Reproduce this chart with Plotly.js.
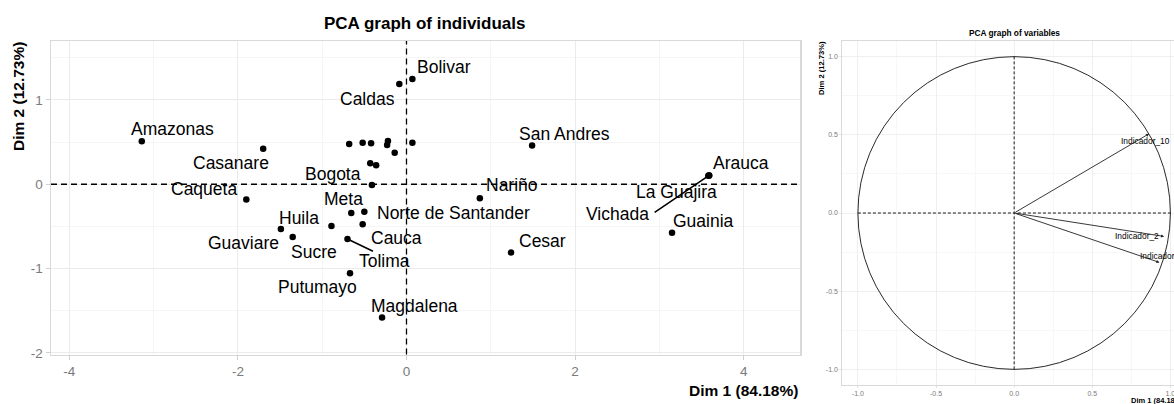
<!DOCTYPE html>
<html>
<head>
<meta charset="utf-8">
<script src="https://cdn.plot.ly/plotly-3.0.1.min.js"></script>
<style>
  html, body { margin: 0; padding: 0; background: #ffffff; overflow: hidden; width: 1174px; height: 404px; }
  #chart { width: 1200px; height: 404px; }
</style>
</head>
<body>
<div id="chart"></div>
<script>
// ---------------- DATA ----------------
// Individuals (departments) – coordinates on Dim 1 / Dim 2
const deptNames = ["Amazonas","Casanare","Caqueta","Caldas","Bolivar","Bogota","Meta",
  "Norte de Santander","Huila","Guaviare","Sucre","Cauca","Tolima","Putumayo","Magdalena",
  "San Andres","Nariño","Arauca","La Guajira","Vichada","Guainia","Cesar",
  "","","","","","","","",""];
const dim1 = [-3.14,-1.70,-1.90,-0.085,0.07,-0.41,-0.655,
  -0.50,-1.49,-1.35,-0.89,-0.52,-0.70,-0.67,-0.29,
  1.49,0.87,3.59,3.58,3.59,3.15,1.24,
  -0.68,-0.52,-0.42,-0.22,-0.23,-0.14,0.07,-0.43,-0.36];
const dim2 = [0.51,0.42,-0.18,1.19,1.25,-0.01,-0.34,
  -0.325,-0.53,-0.625,-0.495,-0.475,-0.65,-1.055,-1.58,
  0.46,-0.165,0.105,0.10,0.105,-0.575,-0.81,
  0.477,0.493,0.486,0.514,0.466,0.375,0.493,0.249,0.225];

// Variables – correlations with Dim 1 / Dim 2
const varNames = ["Indicador_10","Indicador_2","Indicador_1"];
const varDim1 = [0.864, 0.96, 0.93];
const varDim2 = [0.507, -0.15, -0.316];

// Tick labels
const indXTicks = [-4,-2,0,2,4];
const indXTickText = ["-4","-2","0","2","4"];
const indXMinor = [-3,-1,1,3];
const indYTicks = [-2,-1,0,1];
const indYTickText = ["-2","-1","0","1"];
const indYMinor = [-1.5,-0.5,0.5,1.5];
const varTicks = [-1,-0.5,0,0.5,1];
const varTickText = ["-1.0","-0.5","0.0","0.5","1.0"];
const varMinor = [-0.75,-0.25,0.25,0.75];

const axisLabels = {x: "Dim 1 (84.18%)", y: "Dim 2 (12.73%)"};
const titles = ["PCA graph of individuals","PCA graph of variables"];

// ---------------- STYLE (label placement in pixels, not data) ----------------
const labelShift = {
  "Amazonas":[31,12],"Casanare":[-32,-14],"Caqueta":[-42,10],"Caldas":[-32,-15],
  "Bolivar":[32,12],"Bogota":[-39,11],"Meta":[-8,14],"Norte de Santander":[89,-1],
  "Huila":[18,11],"Guaviare":[-49,-6],"Sucre":[-17,-26],"Cauca":[34,-14],
  "Tolima":[37,-22],"Putumayo":[-33,-14],"Magdalena":[32,11],"San Andres":[32,12],
  "Nariño":[32,13],"Arauca":[32,12],"La Guajira":[-32,-16],"Vichada":[-92,-39],
  "Guainia":[31,12],"Cesar":[31,12]
};
const segmentEnd = {"Tolima":[27,13],"Vichada":[-56,38]};
const varLabelStyle = [
  {dx:-4, dy:-7, anchor:"center"},
  {dx:-27, dy:0, anchor:"center"},
  {dx:-21, dy:6, anchor:"left"}
];

const FONT = "Liberation Sans, Arial, Helvetica, sans-serif";
const W = 1200, H = 404;
const px = v => v / W;
const py = v => (H - v) / H;

// ---------------- TRACES ----------------
const traces = [
  {
    type: "scatter", mode: "markers", x: dim1, y: dim2, xaxis: "x", yaxis: "y",
    marker: {color: "#000000", size: 6.5}, hoverinfo: "skip", cliponaxis: false
  },
  { // invisible trace to activate second subplot
    type: "scatter", mode: "markers", x: varDim1, y: varDim2, xaxis: "x2", yaxis: "y2",
    marker: {opacity: 0}, hoverinfo: "skip"
  }
];

// ---------------- ANNOTATIONS ----------------
const annotations = [];
deptNames.forEach((n, i) => {
  if (!n) return;
  const s = labelShift[n] || [0, 12];
  annotations.push({
    xref: "x", yref: "y", x: dim1[i], y: dim2[i], text: n, showarrow: false,
    xshift: s[0], yshift: s[1], xanchor: "center", yanchor: "middle",
    font: {family: FONT, size: 17.5, color: "#000000"}
  });
  if (segmentEnd[n]) {
    annotations.push({
      xref: "x", yref: "y", x: dim1[i], y: dim2[i], text: "", showarrow: true,
      arrowhead: 0, arrowwidth: 1.6, arrowcolor: "#000000",
      ax: segmentEnd[n][0], ay: segmentEnd[n][1], standoff: 0, startstandoff: 0
    });
  }
});

varNames.forEach((n, i) => {
  annotations.push({
    xref: "x2", yref: "y2", x: varDim1[i], y: varDim2[i],
    axref: "x2", ayref: "y2", ax: 0, ay: 0, text: "", showarrow: true,
    arrowhead: 2, arrowsize: 0.7, arrowwidth: 0.9, arrowcolor: "#222222", standoff: 0
  });
  const st = varLabelStyle[i];
  annotations.push({
    xref: "x2", yref: "y2", x: varDim1[i], y: varDim2[i], text: n, showarrow: false,
    xshift: st.dx, yshift: st.dy, xanchor: st.anchor, yanchor: "middle",
    font: {family: FONT, size: 8.4, color: "#000000"}
  });
});

// titles & axis titles
annotations.push(
  {xref:"paper", yref:"paper", x: px(425.5), y: py(23), text: "<b>"+titles[0]+"</b>", showarrow:false,
   xanchor:"center", yanchor:"middle", font:{family:FONT, size:17, color:"#000"}},
  {xref:"paper", yref:"paper", x: px(800), y: py(390), text: "<b>"+axisLabels.x+"</b>", showarrow:false,
   xanchor:"right", yanchor:"middle", font:{family:FONT, size:15.5, color:"#000"}},
  {xref:"paper", yref:"paper", x: px(18), y: py(97), text: "<b>"+axisLabels.y+"</b>", showarrow:false,
   textangle:-90, xanchor:"center", yanchor:"middle", font:{family:FONT, size:15.5, color:"#000"}},
  {xref:"paper", yref:"paper", x: px(1014), y: py(32.7), text: "<b>"+titles[1]+"</b>", showarrow:false,
   xanchor:"center", yanchor:"middle", font:{family:FONT, size:8.3, color:"#000"}},
  {xref:"paper", yref:"paper", x: px(1186), y: py(400.5), text: "<b>"+axisLabels.x+"</b>", showarrow:false,
   xanchor:"right", yanchor:"middle", font:{family:FONT, size:7.5, color:"#000"}},
  {xref:"paper", yref:"paper", x: px(821), y: py(68), text: "<b>"+axisLabels.y+"</b>", showarrow:false,
   textangle:-90, xanchor:"center", yanchor:"middle", font:{family:FONT, size:7.6, color:"#000"}}
);

// ---------------- SHAPES ----------------
const dashed = {color: "#000000", width: 1.3, dash: "6px,4px"};
const dashedSmall = {color: "#000000", width: 0.9, dash: "3px,2px"};
const circleRadius = 1;
const shapes = [
  {type:"line", xref:"x", yref:"y domain", x0:0, x1:0, y0:0, y1:1, line: dashed, layer:"above"},
  {type:"line", xref:"x domain", yref:"y", x0:0, x1:1, y0:0, y1:0, line: dashed, layer:"above"},
  {type:"circle", xref:"x2", yref:"y2", x0:-circleRadius, x1:circleRadius, y0:-circleRadius, y1:circleRadius,
   line:{color:"#111111", width:0.9}, layer:"above"},
  {type:"line", xref:"x2", yref:"y2", x0:-circleRadius, x1:circleRadius, y0:0, y1:0, line: dashedSmall, layer:"above"},
  {type:"line", xref:"x2", yref:"y2", x0:0, x1:0, y0:-circleRadius, y1:circleRadius, line: dashedSmall, layer:"above"}
];

// ---------------- AXES ----------------
function axis(opts) {
  return Object.assign({
    showgrid: true, gridcolor: "#ebebeb", gridwidth: 1,
    zeroline: false, showline: true, mirror: true, linecolor: "#d9d9d9", linewidth: 1.5,
    ticks: "outside", ticklen: 4, tickwidth: 1, tickcolor: "#d0d0d0",
    tickmode: "array", fixedrange: true
  }, opts);
}

const layout = {
  width: W, height: H, margin: {l:0, r:0, t:0, b:0},
  paper_bgcolor: "#ffffff", plot_bgcolor: "#ffffff", showlegend: false,
  font: {family: FONT},
  xaxis: axis({
    domain: [px(51), px(800)], range: [-4.217, 4.668],
    tickvals: indXTicks, ticktext: indXTickText,
    minor: {tickmode:"array", tickvals: indXMinor, showgrid: true, gridcolor: "#f5f5f5", gridwidth: 1},
    tickfont: {family: FONT, size: 13.5, color: "#7a7a7a"}, anchor: "y"
  }),
  yaxis: axis({
    domain: [(H-354.5)/H, (H-41)/H], range: [-2.02, 1.70],
    tickvals: indYTicks, ticktext: indYTickText,
    minor: {tickmode:"array", tickvals: indYMinor, showgrid: true, gridcolor: "#f5f5f5", gridwidth: 1},
    tickfont: {family: FONT, size: 13.5, color: "#7a7a7a"}, anchor: "x"
  }),
  xaxis2: axis({
    domain: [px(842.3), px(1186)], range: [-1.1, 1.1],
    tickvals: varTicks, ticktext: varTickText,
    minor: {tickmode:"array", tickvals: varMinor, showgrid: true, gridcolor: "#f5f5f5", gridwidth: 0.8},
    gridwidth: 0.8, linewidth: 1, ticklen: 2, tickwidth: 0.6,
    tickfont: {family: FONT, size: 7, color: "#7a7a7a"}, anchor: "y2"
  }),
  yaxis2: axis({
    domain: [(H-385)/H, (H-41)/H], range: [-1.1, 1.1],
    tickvals: varTicks, ticktext: varTickText,
    minor: {tickmode:"array", tickvals: varMinor, showgrid: true, gridcolor: "#f5f5f5", gridwidth: 0.8},
    gridwidth: 0.8, linewidth: 1, ticklen: 2, tickwidth: 0.6,
    tickfont: {family: FONT, size: 7, color: "#7a7a7a"}, anchor: "x2"
  }),
  shapes: shapes,
  annotations: annotations
};

Plotly.newPlot("chart", traces, layout, {staticPlot: true, displayModeBar: false});
</script>
</body>
</html>
